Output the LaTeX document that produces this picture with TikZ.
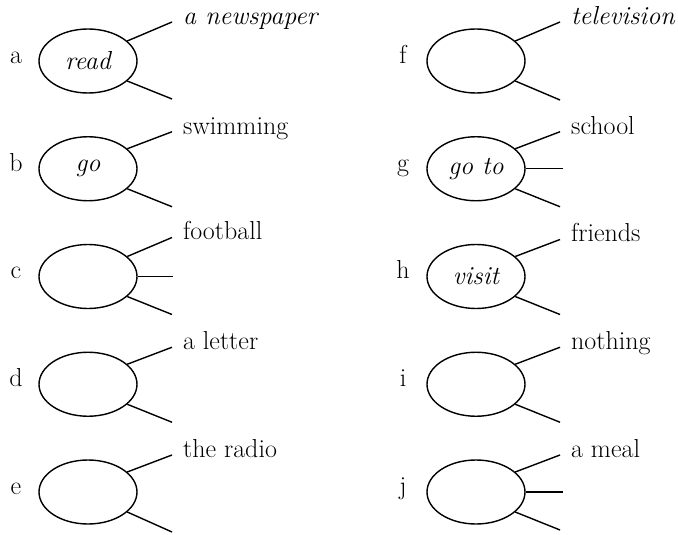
\documentclass[tikz,border=0pt]{standalone}
\usepackage{fontspec}
\usepackage{tikz}
\usetikzlibrary{shapes.geometric, arrows.meta, positioning, calc}
\newcommand{\bigtext}{\fontsize{26}{31}\selectfont}
\tikzstyle{oval} = [draw, ellipse, line width=1.4pt, minimum width=98pt, minimum height=64pt, inner sep=0pt, font=\bigtext\itshape]
\tikzstyle{letter} = [inner sep=0pt, text height=0.7em, text depth=0.25em, font=\bigtext]
\tikzstyle{word} = [anchor=west, inner sep=0pt, xshift=11pt, text height=0.7em, text depth=0.25em, font=\bigtext]
\tikzstyle{spoke} = [line width=1.4pt]

\begin{document}
\begin{tikzpicture}[x=1pt, y=-1pt, node distance=107.75pt]
    \useasboundingbox (0,0) rectangle (678,535);

    % left column
    \node (ovala) [oval] at (88,61) {read};
    \node (ovalb) [oval, below of=ovala] {go};
    \node (ovalc) [oval, below of=ovalb] {};
    \node (ovald) [oval, below of=ovalc] {};
    \node (ovale) [oval, below of=ovald] {};

    % right column
    \node (ovalf) [oval] at (476,61) {};
    \node (ovalg) [oval, below of=ovalf] {go to};
    \node (ovalh) [oval, below of=ovalg] {visit};
    \node (ovali) [oval, below of=ovalh] {};
    \node (ovalj) [oval, below of=ovali] {};

    % row letters
    \node (lettera) [letter, left of=ovala, node distance=72pt] {a};
    \node (letterb) [letter, left of=ovalb, node distance=72pt] {b};
    \node (letterc) [letter, left of=ovalc, node distance=72pt] {c};
    \node (letterd) [letter, left of=ovald, node distance=72pt] {d};
    \node (lettere) [letter, left of=ovale, node distance=72pt] {e};
    \node (letterf) [letter, left of=ovalf, node distance=73pt] {f};
    \node (letterg) [letter, left of=ovalg, node distance=73pt] {g};
    \node (letterh) [letter, left of=ovalh, node distance=73pt] {h};
    \node (letteri) [letter, left of=ovali, node distance=73pt] {i};
    \node (letterj) [letter, left of=ovalj, node distance=73pt] {j};

    % spoke ends
    \coordinate (upa) at ($(ovala)+(84,-39)$);
    \coordinate (downa) at ($(ovala)+(84,38)$);
    \coordinate (upb) at ($(ovalb)+(84,-37)$);
    \coordinate (downb) at ($(ovalb)+(84,38)$);
    \coordinate (upc) at ($(ovalc)+(84,-39)$);
    \coordinate (midc) at ($(ovalc)+(85,0)$);
    \coordinate (downc) at ($(ovalc)+(84,38)$);
    \coordinate (upd) at ($(ovald)+(84,-37)$);
    \coordinate (downd) at ($(ovald)+(84,38)$);
    \coordinate (upe) at ($(ovale)+(84,-37)$);
    \coordinate (downe) at ($(ovale)+(84,40)$);
    \coordinate (upf) at ($(ovalf)+(84,-39)$);
    \coordinate (downf) at ($(ovalf)+(84,39)$);
    \coordinate (upg) at ($(ovalg)+(84,-37)$);
    \coordinate (midg) at ($(ovalg)+(87,0)$);
    \coordinate (downg) at ($(ovalg)+(84,38)$);
    \coordinate (uph) at ($(ovalh)+(84,-37)$);
    \coordinate (downh) at ($(ovalh)+(84,38)$);
    \coordinate (upi) at ($(ovali)+(84,-37)$);
    \coordinate (downi) at ($(ovali)+(84,38)$);
    \coordinate (upj) at ($(ovalj)+(84,-37)$);
    \coordinate (midj) at ($(ovalj)+(87,0)$);
    \coordinate (downj) at ($(ovalj)+(84,38)$);

    \draw [spoke] (ovala.27) -- (upa);
    \draw [spoke] (ovala.-27) -- (downa);
    \draw [spoke] (ovalb.27) -- (upb);
    \draw [spoke] (ovalb.-27) -- (downb);
    \draw [spoke] (ovalc.27) -- (upc);
    \draw [spoke] (ovalc.east) -- (midc);
    \draw [spoke] (ovalc.-27) -- (downc);
    \draw [spoke] (ovald.27) -- (upd);
    \draw [spoke] (ovald.-27) -- (downd);
    \draw [spoke] (ovale.27) -- (upe);
    \draw [spoke] (ovale.-27) -- (downe);
    \draw [spoke] (ovalf.27) -- (upf);
    \draw [spoke] (ovalf.-27) -- (downf);
    \draw [spoke] (ovalg.27) -- (upg);
    \draw [spoke] (ovalg.east) -- (midg);
    \draw [spoke] (ovalg.-27) -- (downg);
    \draw [spoke] (ovalh.27) -- (uph);
    \draw [spoke] (ovalh.-27) -- (downh);
    \draw [spoke] (ovali.27) -- (upi);
    \draw [spoke] (ovali.-27) -- (downi);
    \draw [spoke] (ovalj.27) -- (upj);
    \draw [spoke] (ovalj.east) -- (midj);
    \draw [spoke] (ovalj.-27) -- (downj);

    % words at the top spokes
    \node (newspaper) [word] at (upa) {\itshape a newspaper};
    \node (swimming) [word] at (upb) {swimming};
    \node (football) [word] at (upc) {football};
    \node (letter) [word] at (upd) {a letter};
    \node (radio) [word] at (upe) {the radio};
    \node (television) [word] at (upf) {\itshape television};
    \node (school) [word] at (upg) {school};
    \node (friends) [word] at (uph) {friends};
    \node (nothing) [word] at (upi) {nothing};
    \node (meal) [word] at (upj) {a meal};
\end{tikzpicture}
\end{document}
